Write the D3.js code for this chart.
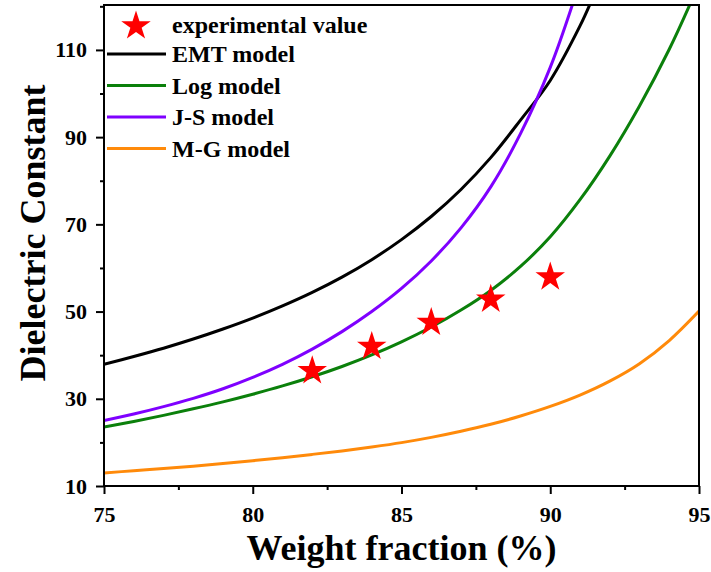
<!DOCTYPE html>
<html>
<head>
<meta charset="utf-8">
<script src="https://cdn.jsdelivr.net/npm/d3@7"></script>
<style>
  body { margin: 0; background: #fff; }
  text { font-family: "Liberation Serif", "Times New Roman", serif; font-weight: bold; fill: #000; }
</style>
</head>
<body>
<svg id="chart" width="711" height="572"></svg>
<script>
// weight fraction (%) sampled along each model curve
var emtX = [75, 76, 77, 78, 79, 80, 81, 82, 83, 84, 85, 86, 87, 88, 89, 90, 91, 91.4];
var emtY = [37.9, 39.7, 41.6, 43.7, 46.0, 48.5, 51.3, 54.4, 57.9, 61.9, 66.5, 71.8, 78.0, 85.3, 93.9, 103.0, 115.5, 121.5];

var logX = [75, 76, 77, 78, 79, 80, 81, 82, 83, 84, 85, 86, 87, 88, 89, 90, 91, 92, 93, 94, 94.7];
var logY = [23.5, 24.8, 26.2, 27.7, 29.3, 31.05, 32.95, 35.05, 37.4, 40.05, 43.05, 46.45, 50.35, 54.85, 60.35, 67.15, 75.65, 85.65, 97.15, 110.15, 120.5];

var jsX = [75, 76, 77, 78, 79, 80, 81, 82, 83, 84, 85, 86, 87, 88, 89, 90, 90.8];
var jsY = [25.0, 26.5, 28.2, 30.1, 32.3, 34.9, 37.9, 41.4, 45.4, 50.0, 55.3, 61.6, 69.2, 78.6, 90.8, 106.0, 121.5];

var mgX = [75, 76, 77, 78, 79, 80, 81, 82, 83, 84, 85, 86, 87, 88, 89, 90, 91, 92, 93, 94, 95];
var mgY = [13.0, 13.5, 14.0, 14.55, 15.15, 15.8, 16.5, 17.25, 18.05, 18.95, 19.95, 21.15, 22.55, 24.15, 26.05, 28.25, 30.85, 34.05, 38.05, 43.35, 50.1];

var expX = [82, 84, 86, 88, 90];
var expY = [36.4, 42.0, 47.5, 52.8, 57.9];

var xTicks = [75, 80, 85, 90, 95];
var yTicks = [10, 30, 50, 70, 90, 110];

var seriesNames = ["EMT model", "Log model", "J-S model", "M-G model"];
var seriesColors = ["#000000", "#0b800b", "#7f00ff", "#ff8a0a"];

var svg = d3.select("#chart");

var plotLeft = 104, plotRight = 699, plotTop = 5, plotBottom = 486;

var x = d3.scaleLinear().domain([75, 95]).range([plotLeft, plotRight]);
var y = d3.scaleLinear().domain([10, 120.3]).range([plotBottom, plotTop]);

svg.append("rect")
    .attr("width", 711)
    .attr("height", 572)
    .style("fill", "#fff");

svg.append("clipPath")
    .attr("id", "plotClip")
  .append("rect")
    .attr("x", plotLeft)
    .attr("y", plotTop)
    .attr("width", plotRight - plotLeft)
    .attr("height", plotBottom - plotTop);

// curves
var series = [
    {x: emtX, y: emtY},
    {x: logX, y: logY},
    {x: jsX, y: jsY},
    {x: mgX, y: mgY}
];

var line = d3.line()
    .x(function(d){ return x(d[0]); })
    .y(function(d){ return y(d[1]); })
    .curve(d3.curveCatmullRom.alpha(0.5));

var curves = svg.append("g").attr("clip-path", "url(#plotClip)");

series.forEach(function(s, i){
    var pts = s.x.map(function(v, j){ return [v, s.y[j]]; });
    curves.append("path")
        .attr("d", line(pts))
        .style("fill", "none")
        .style("stroke", seriesColors[i])
        .style("stroke-width", 3);
});

// experimental stars
var star = d3.symbol().type(d3.symbolStar).size(270);

svg.append("g")
    .selectAll("path")
    .data(expX)
    .join("path")
    .attr("d", star)
    .attr("transform", function(d, i){ return "translate(" + x(d) + "," + y(expY[i]) + ")"; })
    .style("fill", "#ff0000");

// axes
var xAxis = d3.axisBottom(x).tickValues(xTicks).tickSize(8).tickPadding(12).tickFormat(d3.format("d"));
var xMinor = d3.axisBottom(x).tickValues([77.5, 82.5, 87.5, 92.5]).tickSize(4).tickFormat("");
var yAxis = d3.axisLeft(y).tickValues(yTicks).tickSize(8).tickPadding(9).tickFormat(d3.format("d"));
var yMinor = d3.axisLeft(y).tickValues([20, 40, 60, 80, 100, 120]).tickSize(4).tickFormat("");

var gx = svg.append("g").attr("transform", "translate(0," + plotBottom + ")").call(xAxis);
var gxm = svg.append("g").attr("transform", "translate(0," + plotBottom + ")").call(xMinor);
var gy = svg.append("g").attr("transform", "translate(" + plotLeft + ",0)").call(yAxis);
var gym = svg.append("g").attr("transform", "translate(" + plotLeft + ",0)").call(yMinor);

[gx, gxm, gy, gym].forEach(function(g){
    g.select(".domain").remove();
    g.selectAll(".tick line").style("stroke", "#000").style("stroke-width", 2);
    g.selectAll(".tick text").style("font-size", "22px").style("font-family", "Liberation Serif, serif").style("font-weight", "bold");
});

// frame
svg.append("rect")
    .attr("x", plotLeft)
    .attr("y", plotTop)
    .attr("width", plotRight - plotLeft)
    .attr("height", plotBottom - plotTop)
    .style("fill", "none")
    .style("stroke", "#000")
    .style("stroke-width", 2);

// axis titles
svg.append("text")
    .attr("x", (plotLeft + plotRight) / 2)
    .attr("y", 560)
    .attr("text-anchor", "middle")
    .style("font-size", "36px")
    .text("Weight fraction (%)");

svg.append("text")
    .attr("transform", "translate(45,233) rotate(-90)")
    .attr("text-anchor", "middle")
    .style("font-size", "36px")
    .text("Dielectric Constant");

// legend
var legend = svg.append("g");

legend.append("path")
    .attr("d", star)
    .attr("transform", "translate(136,26)")
    .style("fill", "#ff0000");

legend.append("text")
    .attr("x", 172)
    .attr("y", 33)
    .style("font-size", "24px")
    .text("experimental value");

seriesNames.forEach(function(name, i){
    var ly = 54 + i * 31.5;
    legend.append("line")
        .attr("x1", 107)
        .attr("x2", 166)
        .attr("y1", ly)
        .attr("y2", ly)
        .style("stroke", seriesColors[i])
        .style("stroke-width", 3);
    legend.append("text")
        .attr("x", 172)
        .attr("y", ly + 8)
        .style("font-size", "24px")
        .text(name);
});
</script>
</body>
</html>
